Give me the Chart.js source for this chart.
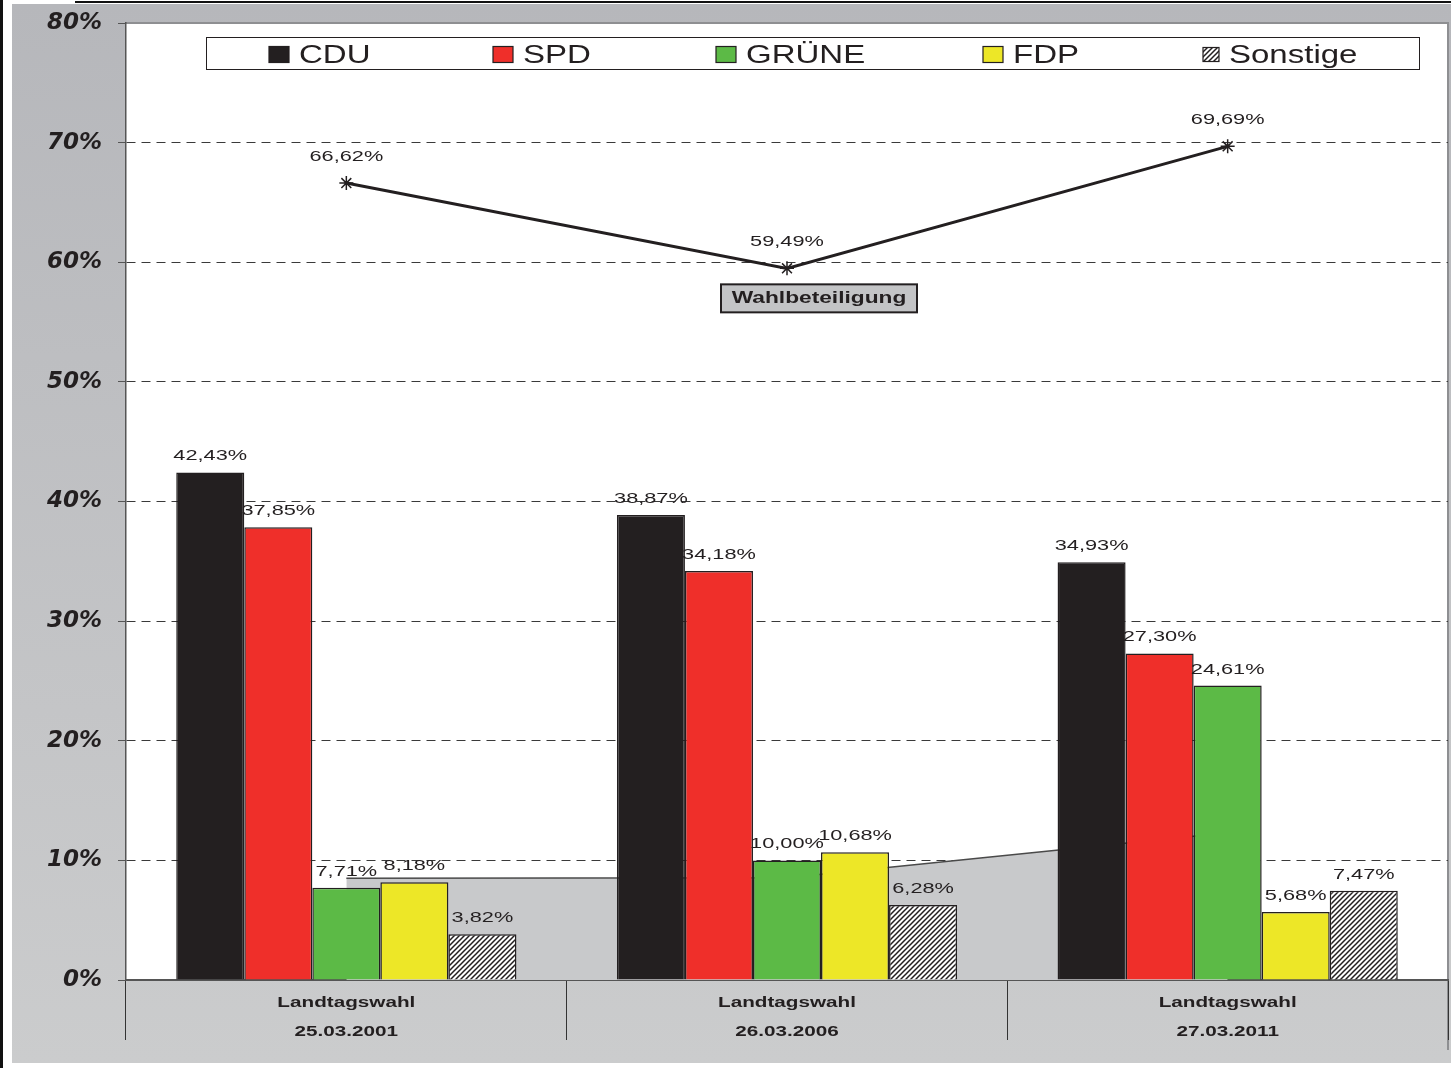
<!DOCTYPE html>
<html>
<head>
<meta charset="utf-8">
<script src="https://cdn.jsdelivr.net/npm/chart.js@4"></script>
<style>
  body { margin: 0; background: #fff; overflow: hidden; }
</style>
</head>
<body>
<canvas id="wahl_chart" width="1451" height="1068"></canvas>
<script>
// Werte
const wahlen = [['Landtagswahl', '25.03.2001'], ['Landtagswahl', '26.03.2006'], ['Landtagswahl', '27.03.2011']];
const cdu = [42.43, 38.87, 34.93];
const spd = [37.85, 34.18, 27.30];
const gruene = [7.71, 10.00, 24.61];
const fdp = [8.18, 10.68, 5.68];
const sonstige = [3.82, 6.28, 7.47];
const wahlbeteiligung = [66.62, 59.49, 69.69];
const grauWerte = [8.51, 8.55, 12.3];   // graue Fläche hinter den Balken (geschätzt)
const yTicks = [0, 10, 20, 30, 40, 50, 60, 70, 80];

const dunkel = '#231f20';
const fmt = v => v.toFixed(2).replace('.', ',') + '%';

// Schraffur für "Sonstige"
function maakSchraffur() {
    const c = document.createElement('canvas');
    c.width = 5; c.height = 5;
    const p = c.getContext('2d');
    p.fillStyle = '#fff';
    p.fillRect(0, 0, 5, 5);
    p.strokeStyle = dunkel;
    p.lineWidth = 1.5;
    p.beginPath();
    p.moveTo(-1, 6); p.lineTo(6, -1);
    p.moveTo(-1, 1); p.lineTo(1, -1);
    p.moveTo(4, 6); p.lineTo(6, 4);
    p.stroke();
    return p.createPattern(c, 'repeat');
}
const schraffur = maakSchraffur();

// Text horizontal gestreckt zeichnen (die Vorlage hat breite Schrift)
function breitText(ctx, text, x, y, font, sx, align) {
    ctx.save();
    ctx.font = font;
    ctx.textAlign = align || 'center';
    ctx.textBaseline = 'alphabetic';
    ctx.fillStyle = dunkel;
    ctx.translate(x, y);
    ctx.scale(sx, 1);
    ctx.fillText(text, 0, 0);
    ctx.restore();
}

const hintergrund = {
    id: 'hintergrund',
    beforeDraw(chart) {
        const { ctx, chartArea: a, width, height } = chart;
        ctx.save();
        ctx.fillStyle = '#fff';
        ctx.fillRect(0, 0, width, height);
        const grad = ctx.createLinearGradient(0, 4, 0, 1063);
        grad.addColorStop(0, '#b6b7bb');
        grad.addColorStop(1, '#cbcccd');
        ctx.fillStyle = grad;
        ctx.fillRect(12, 4, width - 12, 1059);
        ctx.fillStyle = '#fff';
        ctx.fillRect(a.left, a.top, a.right - a.left, a.bottom - a.top);
        ctx.fillStyle = '#111';
        ctx.fillRect(0, 0, 3, height);
        ctx.fillRect(75, 1, width - 75, 2);
        ctx.strokeStyle = '#8e8f92';
        ctx.lineWidth = 2;
        ctx.beginPath();
        ctx.moveTo(a.left, a.top);
        ctx.lineTo(a.right, a.top);
        ctx.lineTo(a.right, a.bottom + 70);
        ctx.stroke();
        ctx.restore();
    }
};

const beschriftung = {
    id: 'beschriftung',
    afterDatasetsDraw(chart) {
        const ctx = chart.ctx;
        const font = '15px "Liberation Sans", Arial, sans-serif';
        chart.data.datasets.forEach((ds, i) => {
            const meta = chart.getDatasetMeta(i);
            if (ds.type === 'bar') {
                meta.data.forEach((el, j) => breitText(ctx, fmt(ds.data[j]), el.x, el.y - 12, font, 1.45));
            } else if (ds.label === 'Wahlbeteiligung') {
                meta.data.forEach((el, j) => breitText(ctx, fmt(ds.data[j]), el.x, el.y - 22, font, 1.45));
                // Kasten unter dem mittleren Punkt
                const m = meta.data[1];
                ctx.save();
                ctx.fillStyle = '#c3c4c6';
                ctx.strokeStyle = dunkel;
                ctx.lineWidth = 2;
                ctx.fillRect(m.x - 66, m.y + 16, 196, 28);
                ctx.strokeRect(m.x - 66, m.y + 16, 196, 28);
                ctx.restore();
                breitText(ctx, 'Wahlbeteiligung', m.x + 32, m.y + 35, 'bold 16px "Liberation Sans", Arial, sans-serif', 1.42);
            }
        });
    },
    afterDraw(chart) {
        const ctx = chart.ctx;
        const x = chart.scales.x;
        // Kategorien unter der Achse
        wahlen.forEach((w, i) => {
            const px = x.getPixelForValue(i);
            breitText(ctx, w[0], px, 1007, 'bold 15px "Liberation Sans", Arial, sans-serif', 1.38);
            breitText(ctx, w[1], px, 1036, 'bold 15px "Liberation Sans", Arial, sans-serif', 1.38);
        });
        // Legende
        ctx.save();
        ctx.fillStyle = '#fff';
        ctx.strokeStyle = dunkel;
        ctx.lineWidth = 1;
        ctx.fillRect(206.5, 37.5, 1213, 32);
        ctx.strokeRect(206.5, 37.5, 1213, 32);
        ctx.restore();
        const legX = [269, 493, 716, 983, 1203];
        chart.data.datasets.filter(d => d.type === 'bar').forEach((ds, i) => {
            const klein = ds.label === 'Sonstige';
            const w = klein ? 16 : 20, h = klein ? 14 : 16;
            ctx.save();
            ctx.fillStyle = ds.backgroundColor;
            ctx.strokeStyle = dunkel;
            ctx.lineWidth = 1.2;
            ctx.fillRect(legX[i], 54.5 - h / 2, w, h);
            ctx.strokeRect(legX[i], 54.5 - h / 2, w, h);
            ctx.restore();
            breitText(ctx, ds.label, legX[i] + w + 10, 62.5, '25px "Liberation Sans", Arial, sans-serif', 1.32, 'left');
        });
    }
};

const balken = (label, data, kleur) => ({
    type: 'bar', label, data,
    backgroundColor: kleur,
    borderColor: dunkel,
    borderWidth: 1.5,
    order: 5
});

new Chart(document.getElementById('wahl_chart').getContext('2d'), {
    type: 'bar',
    data: {
        labels: wahlen,
        datasets: [
            balken('CDU', cdu, dunkel),
            balken('SPD', spd, '#ef2f2a'),
            balken('GRÜNE', gruene, '#5cba46'),
            balken('FDP', fdp, '#ede727'),
            balken('Sonstige', sonstige, schraffur),
            {
                type: 'line', label: 'Wahlbeteiligung', data: wahlbeteiligung,
                borderColor: dunkel, borderWidth: 3, tension: 0,
                pointStyle: 'star', pointRadius: 7, pointBorderWidth: 1.5,
                pointBorderColor: dunkel, pointBackgroundColor: dunkel,
                order: 1
            },
            {
                type: 'line', label: 'grau', data: grauWerte,
                borderColor: '#4a4a4a', borderWidth: 1.5, tension: 0,
                backgroundColor: '#c8c9cb', fill: 'origin',
                pointRadius: 0,
                order: 10
            }
        ]
    },
    options: {
        responsive: false,
        animation: false,
        layout: { autoPadding: false, padding: { top: 23, right: 3, left: 0, bottom: 0 } },
        datasets: { bar: { categoryPercentage: 0.772, barPercentage: 1 } },
        plugins: { legend: { display: false }, tooltip: { enabled: false } },
        scales: {
            x: {
                afterFit: s => { s.height = 88; },
                ticks: { display: false },
                grid: { offset: true, drawOnChartArea: false, tickLength: 60, tickColor: '#333', tickWidth: 1 },
                border: { display: true, color: '#555', width: 2 }
            },
            y: {
                min: 0, max: 80,
                afterFit: s => { s.width = 126; s.paddingTop = 0; s.paddingBottom = 0; },
                afterBuildTicks: s => { s.ticks = yTicks.map(v => ({ value: v })); },
                ticks: {
                    callback: v => v + '%',
                    color: dunkel,
                    padding: 16,
                    font: { family: '"DejaVu Sans"', size: 23, weight: 'bold', style: 'italic' }
                },
                grid: {
                    color: c => (c.tick && (c.tick.value === 0 || c.tick.value === 80)) ? 'rgba(0,0,0,0)' : '#3a3a3a',
                    lineWidth: 1,
                    tickLength: 8,
                    tickColor: '#555'
                },
                border: { display: true, color: '#555', width: 1.5, dash: [9, 6] }
            }
        }
    },
    plugins: [hintergrund, beschriftung]
});
</script>
</body>
</html>
